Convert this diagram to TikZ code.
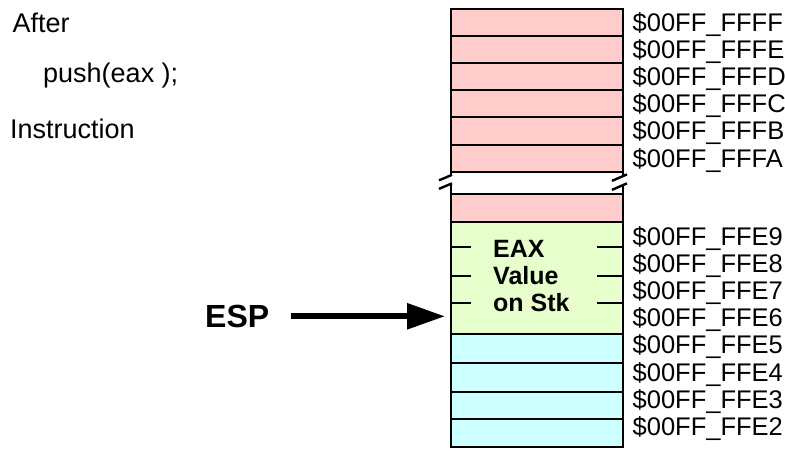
\documentclass[tikz,border=0pt]{standalone}
\usepackage{fontspec}
\setmainfont{Liberation Sans}
\usetikzlibrary{arrows.meta,calc}
\definecolor{pinkc}{HTML}{FFCCCC}
\definecolor{greenc}{HTML}{E6FFCC}
\definecolor{cyanc}{HTML}{CCFFFF}
\begin{document}
\begin{tikzpicture}[x=1pt,y=-1pt,
  cell/.style={draw=black,line width=2pt,inner sep=0pt,minimum width=172pt},
  pinkcell/.style={cell,fill=pinkc},
  greencell/.style={cell,fill=greenc},
  cyancell/.style={cell,fill=cyanc},
  addr/.style={anchor=base west,inner sep=0pt,font=\fontsize{25.5}{25.5}\selectfont},
  lefttxt/.style={anchor=base west,inner sep=0pt,font=\fontsize{27}{27}\selectfont},
  tickline/.style={line width=2pt},
  slash/.style={line width=2.4pt},
  bigarrow/.style={line width=5.7pt,-{Triangle[length=38pt,width=25pt]}}
  ]
\useasboundingbox (0,0) rectangle (785,451);

% left texts
\node[lefttxt] (after) at (12.5,32.3) {After};
\node[lefttxt] (push) at (43,82.5) {push(eax );};
\node[lefttxt] (instr) at (10,138.3) {Instruction};

% upper pink rows
\node[pinkcell,minimum height=27.2pt] (r1) at (537,22.1) {};
\node[pinkcell,minimum height=27.2pt] (r2) at (537,49.3) {};
\node[pinkcell,minimum height=27.2pt] (r3) at (537,76.5) {};
\node[pinkcell,minimum height=27.2pt] (r4) at (537,103.7) {};
\node[pinkcell,minimum height=27.2pt] (r5) at (537,130.9) {};
\node[pinkcell,minimum height=27.2pt] (r6) at (537,158.1) {};
% break
\node[cell,fill=white,minimum height=22.3pt] (gap) at (537,182.85) {};
\node[pinkcell,minimum height=28pt] (r7) at (537,208) {};
% green block
\node[greencell,minimum height=112pt] (eax) at (537,278) {};
% cyan rows
\node[cyancell,minimum height=29.3pt] (c1) at (537,348.65) {};
\node[cyancell,minimum height=29pt] (c2) at (537,377.8) {};
\node[cyancell,minimum height=27pt] (c3) at (537,405.8) {};
\node[cyancell,minimum height=27.7pt] (c4) at (537,433.15) {};

% break marks (left)
\fill[white] ($(gap.west)+(-11,-2.5)$) -- ($(gap.west)+(2,-8)$) -- ($(gap.west)+(2,0.5)$) -- ($(gap.west)+(-11,6)$) -- cycle;
\draw[slash] ($(gap.west)+(-11,-2.5)$) -- ($(gap.west)+(2,-8)$);
\draw[slash] ($(gap.west)+(-11,6)$) -- ($(gap.west)+(2,0.5)$);
% break marks (right)
\fill[white] ($(gap.east)+(-12,-2)$) -- ($(gap.east)+(3,-8.5)$) -- ($(gap.east)+(3,0.5)$) -- ($(gap.east)+(-12,7)$) -- cycle;
\draw[slash] ($(gap.east)+(-12,-2)$) -- ($(gap.east)+(3,-8.5)$);
\draw[slash] ($(gap.east)+(-12,7)$) -- ($(gap.east)+(3,0.5)$);

% ticks in green block
\foreach \d in {26,55,82}{
  \draw[tickline] ($(eax.north west)+(0,\d)$) -- ++(21,0);
  \draw[tickline] ($(eax.north east)+(0,\d)$) -- ++(-27,0);
}
\node[anchor=north west,inner sep=0pt,align=left,font=\bfseries\fontsize{25}{27}\selectfont] (eaxtxt) at (493,240) {EAX\\Value\\on Stk};

% address labels
\node[addr] (a1) at (632.5,31.1) {\$00FF\_FFFF};
\node[addr] (a2) at (632.5,58.3) {\$00FF\_FFFE};
\node[addr] (a3) at (632.5,85.5) {\$00FF\_FFFD};
\node[addr] (a4) at (632.5,112.7) {\$00FF\_FFFC};
\node[addr] (a5) at (632.5,139.9) {\$00FF\_FFFB};
\node[addr] (a6) at (632.5,167.1) {\$00FF\_FFFA};
\node[addr] (b1) at (632.5,245.5) {\$00FF\_FFE9};
\node[addr] (b2) at (632.5,272.6) {\$00FF\_FFE8};
\node[addr] (b3) at (632.5,299.7) {\$00FF\_FFE7};
\node[addr] (b4) at (632.5,326.8) {\$00FF\_FFE6};
\node[addr] (b5) at (632.5,353.9) {\$00FF\_FFE5};
\node[addr] (b6) at (632.5,381.0) {\$00FF\_FFE4};
\node[addr] (b7) at (632.5,408.1) {\$00FF\_FFE3};
\node[addr] (b8) at (632.5,435.2) {\$00FF\_FFE2};

% ESP arrow
\node[anchor=base west,inner sep=0pt,font=\bfseries\fontsize{32}{32}\selectfont] (esp) at (205,327.3) {ESP};
\coordinate (tip) at ($(esp.east -| eax.west)+(-5,0)$);
\draw[bigarrow] ($(esp.east)+(22,0)$) -- (tip);
\end{tikzpicture}
\end{document}
